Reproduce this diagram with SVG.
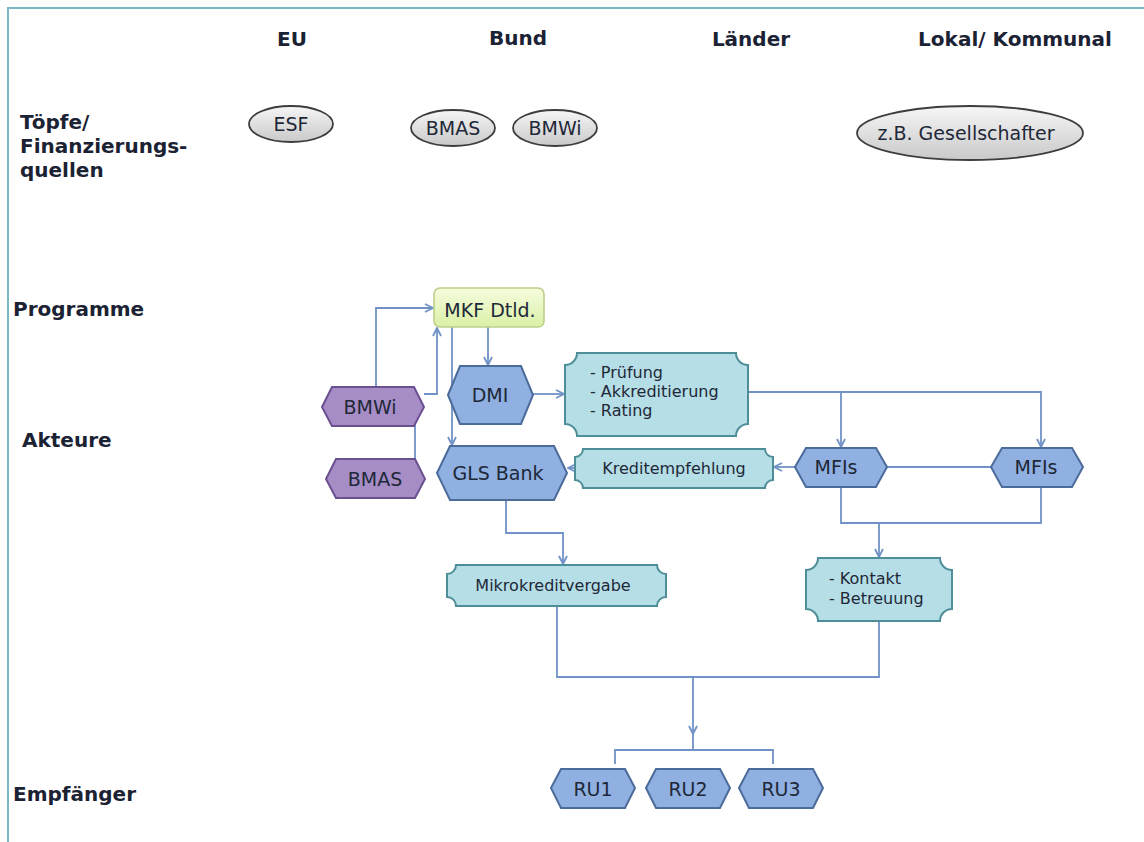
<svg xmlns="http://www.w3.org/2000/svg" width="1144" height="842" viewBox="0 0 1144 842">
<defs>
<style>
.hdr{font-family:"DejaVu Sans",Verdana,sans-serif;font-weight:bold;font-size:20px;fill:#1b2233}
.lbl{font-family:"DejaVu Sans",Verdana,sans-serif;font-size:19px;fill:#1e2838}
.sm{font-family:"DejaVu Sans",Verdana,sans-serif;font-size:16px;fill:#1e2838}
.ell{fill:url(#gGray);stroke:#3d3d3d;stroke-width:1.8}
.blue{fill:#8fb0e0;stroke:#4b6b9b;stroke-width:2}
.purp{fill:#a68dc6;stroke:#6a5090;stroke-width:2}
.teal{fill:#b5dee6;stroke:#4e8e98;stroke-width:2}
.con{fill:none;stroke:#7092c6;stroke-width:1.8}
</style>
<linearGradient id="gGray" x1="0" y1="0" x2="0" y2="1">
<stop offset="0" stop-color="#f6f6f6"/><stop offset="1" stop-color="#c9c9c9"/>
</linearGradient>
<linearGradient id="gGreen" x1="0" y1="0" x2="0" y2="1">
<stop offset="0" stop-color="#f6fcde"/><stop offset="1" stop-color="#daf0a6"/>
</linearGradient>
<marker id="arr" viewBox="0 0 10 10" refX="9" refY="5" markerWidth="10" markerHeight="10" markerUnits="userSpaceOnUse" orient="auto">
<path d="M1,1 L9,5 L1,9" fill="none" stroke="#7092c6" stroke-width="1.8"/>
</marker>
</defs>
<rect x="0" y="0" width="1144" height="842" fill="#ffffff"/>
<path d="M8,842 V8 H1144" fill="none" stroke="#7ab8c4" stroke-width="2"/>

<g id="headers">
<text class="hdr" x="292" y="46" text-anchor="middle">EU</text>
<text class="hdr" x="518" y="45" text-anchor="middle">Bund</text>
<text class="hdr" x="751" y="46" text-anchor="middle">Länder</text>
<text class="hdr" x="1015" y="46" text-anchor="middle">Lokal/ Kommunal</text>
</g>
<g id="rowlabels">
<text class="hdr" x="20" y="129">Töpfe/</text>
<text class="hdr" x="20" y="153">Finanzierungs-</text>
<text class="hdr" x="20" y="177">quellen</text>
<text class="hdr" x="13" y="316">Programme</text>
<text class="hdr" x="22" y="447">Akteure</text>
<text class="hdr" x="13" y="801">Empfänger</text>
</g>

<g id="connectors">
<path class="con" d="M376,387 V308 H433" marker-end="url(#arr)"/>
<path class="con" d="M424,394 H437 V328" marker-end="url(#arr)"/>
<path class="con" d="M415,424 V459"/>
<path class="con" d="M452,327 V445" marker-end="url(#arr)"/>
<path class="con" d="M488,327 V365" marker-end="url(#arr)"/>
<path class="con" d="M533,394 H564" marker-end="url(#arr)"/>
<path class="con" d="M748,392 H1041 V447" marker-end="url(#arr)"/>
<path class="con" d="M841,392 V447" marker-end="url(#arr)"/>
<path class="con" d="M795,467 H774" marker-end="url(#arr)"/>
<path class="con" d="M575,468 H568" marker-end="url(#arr)"/>
<path class="con" d="M887,467 H991"/>
<path class="con" d="M841,487 V523 H1041 V487"/>
<path class="con" d="M879,523 V557" marker-end="url(#arr)"/>
<path class="con" d="M506,500 V533 H563 V564" marker-end="url(#arr)"/>
<path class="con" d="M557,606 V677 H879 V621"/>
<path class="con" d="M693,677 V734" marker-end="url(#arr)"/>
<path class="con" d="M693,734 V750 M615,764 V750 H773 V764"/>
</g>

<g id="n-esf"><ellipse class="ell" cx="291" cy="124" rx="42" ry="18"/><text class="lbl" x="291" y="131" text-anchor="middle">ESF</text></g>
<g id="n-bmas-top"><ellipse class="ell" cx="453" cy="128" rx="42" ry="18"/><text class="lbl" x="453" y="135" text-anchor="middle">BMAS</text></g>
<g id="n-bmwi-top"><ellipse class="ell" cx="555" cy="128" rx="42" ry="18"/><text class="lbl" x="555" y="135" text-anchor="middle">BMWi</text></g>
<g id="n-gesell"><ellipse class="ell" cx="970" cy="133" rx="113" ry="27"/><text class="lbl" x="966" y="140" text-anchor="middle">z.B. Gesellschafter</text></g>

<g id="n-mkf"><rect x="434" y="288" width="110" height="39" rx="6" fill="url(#gGreen)" stroke="#bccf8a" stroke-width="1.6"/><text class="lbl" x="490" y="317" text-anchor="middle">MKF Dtld.</text></g>

<g id="n-dmi"><polygon class="blue" points="448,395 460,366 521,366 533,395 521,424 460,424"/><text class="lbl" x="490" y="402" text-anchor="middle">DMI</text></g>
<g id="n-bmwi"><polygon class="purp" points="322,407 332,387 414,387 424,407 414,426 332,426"/><text class="lbl" x="370" y="414" text-anchor="middle">BMWi</text></g>
<g id="n-bmas"><polygon class="purp" points="326,479 336,459 415,459 425,479 415,498 336,498"/><text class="lbl" x="375" y="486" text-anchor="middle">BMAS</text></g>
<g id="n-gls"><polygon class="blue" points="437,473 450,446 554,446 567,473 554,500 450,500"/><text class="lbl" x="498" y="480" text-anchor="middle">GLS Bank</text></g>
<g id="n-mfis1"><polygon class="blue" points="795,467 806,448 876,448 887,467 876,487 806,487"/><text class="lbl" x="836" y="474" text-anchor="middle">MFIs</text></g>
<g id="n-mfis2"><polygon class="blue" points="991,467 1002,448 1072,448 1083,467 1072,487 1002,487"/><text class="lbl" x="1036" y="474" text-anchor="middle">MFIs</text></g>

<g id="n-pruefung"><path class="teal" d="M577,353 H736 A12,12 0 0 0 748,365 V424 A12,12 0 0 0 736,436 H577 A12,12 0 0 0 565,424 V365 A12,12 0 0 0 577,353 Z"/>
<text class="sm" x="590" y="378">- Prüfung</text><text class="sm" x="590" y="397">- Akkreditierung</text><text class="sm" x="590" y="416">- Rating</text></g>
<g id="n-kredit"><path class="teal" d="M583,449 H765 A8,8 0 0 0 773,457 V480 A8,8 0 0 0 765,488 H583 A8,8 0 0 0 575,480 V457 A8,8 0 0 0 583,449 Z"/><text class="sm" x="674" y="474" text-anchor="middle">Kreditempfehlung</text></g>
<g id="n-mikro"><path class="teal" d="M456,565 H657 A9,9 0 0 0 666,574 V597 A9,9 0 0 0 657,606 H456 A9,9 0 0 0 447,597 V574 A9,9 0 0 0 456,565 Z"/><text class="sm" x="553" y="591" text-anchor="middle">Mikrokreditvergabe</text></g>
<g id="n-kontakt"><path class="teal" d="M818,558 H940 A12,12 0 0 0 952,570 V609 A12,12 0 0 0 940,621 H818 A12,12 0 0 0 806,609 V570 A12,12 0 0 0 818,558 Z"/>
<text class="sm" x="829" y="584">- Kontakt</text><text class="sm" x="829" y="604">- Betreuung</text></g>

<g id="n-ru1"><polygon class="blue" points="551,788 561,769 625,769 635,788 625,808 561,808"/><text class="lbl" x="593" y="796" text-anchor="middle">RU1</text></g>
<g id="n-ru2"><polygon class="blue" points="646,788 656,769 720,769 730,788 720,808 656,808"/><text class="lbl" x="688" y="796" text-anchor="middle">RU2</text></g>
<g id="n-ru3"><polygon class="blue" points="739,788 749,769 813,769 823,788 813,808 749,808"/><text class="lbl" x="781" y="796" text-anchor="middle">RU3</text></g>
</svg>
